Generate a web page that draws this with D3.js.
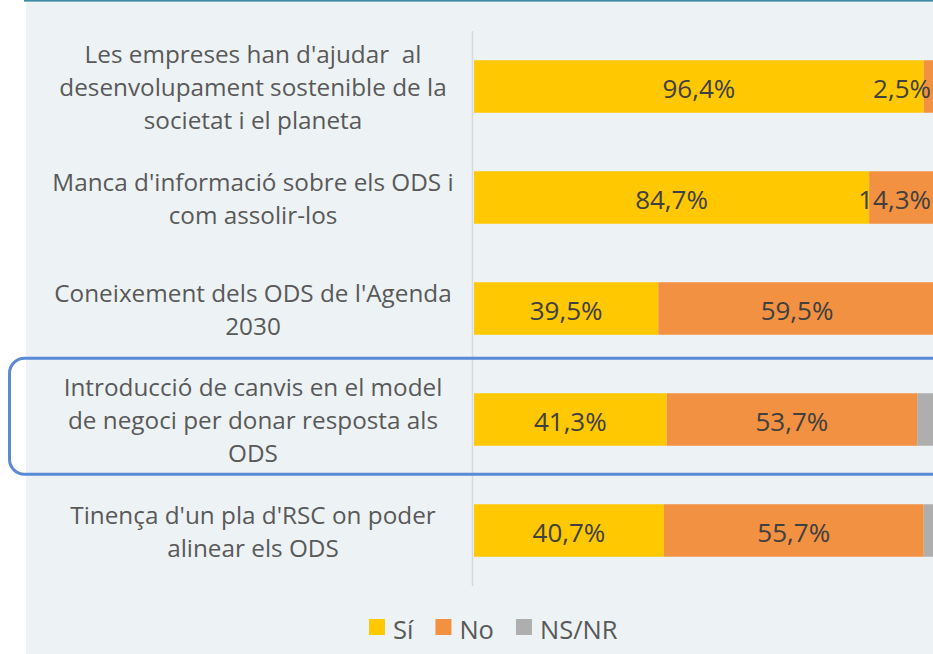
<!DOCTYPE html>
<html>
<head>
<meta charset="utf-8">
<script src="https://cdn.jsdelivr.net/npm/d3@7"></script>
<style>
  html, body { margin: 0; padding: 0; background: #ffffff; }
  svg { display: block; }
  text { font-family: 'Open Sans', sans-serif; }
</style>
</head>
<body>
<div id="chart"></div>
<script>
// categories, one array of lines each (as wrapped in the picture)
const categories = [
  ["Les empreses han d'ajudar  al", "desenvolupament sostenible de la", "societat i el planeta"],
  ["Manca d'informació sobre els ODS i", "com assolir-los"],
  ["Coneixement dels ODS de l'Agenda", "2030"],
  ["Introducció de canvis en el model", "de negoci per donar resposta als", "ODS"],
  ["Tinença d'un pla d'RSC on poder", "alinear els ODS"]
];
const si = [96.4, 84.7, 39.5, 41.3, 40.7];
const no = [2.5, 14.3, 59.5, 53.7, 55.7];
const nsnr = [1.1, 1.0, 1.0, 5.0, 3.6];
const seriesNames = ['Sí', 'No', 'NS/NR'];
const highlighted = 3;

const width = 933, height = 654;

const svg = d3.select('#chart').append('svg')
  .attr('width', width)
  .attr('height', height);

// panel background + top rule
svg.append('rect')
  .attr('x', 26).attr('y', 0)
  .attr('width', width - 26).attr('height', height)
  .attr('fill', '#edf2f5');
svg.append('rect')
  .attr('x', 24).attr('y', 0)
  .attr('width', width - 24).attr('height', 1.6)
  .attr('fill', '#3b8ca3');

const color = d3.scaleOrdinal()
  .domain(seriesNames)
  .range(['#ffc800', '#f29141', '#aeaeae']);

const y = d3.scaleBand()
  .domain(d3.range(categories.length))
  .range([31, 586])
  .paddingInner(0.527)
  .paddingOuter(0.2635);

const x = d3.scaleLinear()
  .domain([0, 100])
  .range([474, 940.5]);

const rows = categories.map((c, i) => ({ i, 'Sí': si[i], 'No': no[i], 'NS/NR': nsnr[i] }));
const stack = d3.stack().keys(seriesNames)(rows);

// vertical axis line
svg.append('line')
  .attr('x1', 472.5).attr('x2', 472.5)
  .attr('y1', y.range()[0]).attr('y2', y.range()[1])
  .attr('stroke', '#d9d9d9')
  .attr('stroke-width', 1.5);

const layers = svg.append('g')
  .selectAll('g')
  .data(stack)
  .join('g')
  .attr('fill', d => color(d.key));

layers.selectAll('rect')
  .data(d => d)
  .join('rect')
  .attr('x', d => x(d[0]))
  .attr('y', (d, i) => y(i))
  .attr('width', d => x(d[1]) - x(d[0]))
  .attr('height', y.bandwidth());

// value labels (Sí and No only), kept inside the visible plot
const fmt = v => v.toFixed(1).replace('.', ',') + '%';
const plotRight = 931;
stack.filter(s => s.key !== 'NS/NR').forEach(s => {
  s.forEach((d, i) => {
    const t = svg.append('text')
      .attr('y', y(i) + y.bandwidth() / 2)
      .attr('dy', '0.43em')
      .attr('text-anchor', 'middle')
      .attr('fill', '#404040')
      .style('font-size', '26px')
      .text(fmt(d[1] - d[0]));
    const w = t.node().getComputedTextLength();
    const cx = Math.min((x(d[0]) + x(d[1])) / 2, plotRight - w / 2);
    t.attr('x', cx);
  });
});

// category labels, centred to the left of the axis
const lineH = 33;
categories.forEach((lines, i) => {
  const cy = y(i) + y.bandwidth() / 2;
  const t = svg.append('text')
    .attr('text-anchor', 'middle')
    .attr('fill', '#595959')
    .style('font-size', '24.3px');
  lines.forEach((ln, k) => {
    t.append('tspan')
      .attr('x', 253)
      .attr('y', cy + (k - (lines.length - 1) / 2) * lineH)
      .attr('dy', '0.4em')
      .style('white-space', 'pre')
      .text(ln);
  });
});

// highlight frame around one category
svg.append('rect')
  .attr('x', 9.5)
  .attr('y', y(highlighted) - 35)
  .attr('width', 980)
  .attr('height', 116)
  .attr('rx', 15)
  .attr('fill', 'none')
  .attr('stroke', '#5a8ad5')
  .attr('stroke-width', 3);

// legend
const legend = svg.append('g').attr('transform', 'translate(369,0)');
let lx = 0;
seriesNames.forEach(name => {
  legend.append('rect')
    .attr('x', lx).attr('y', 619)
    .attr('width', 16).attr('height', 16)
    .attr('fill', color(name));
  const t = legend.append('text')
    .attr('x', lx + 24)
    .attr('y', 630)
    .attr('dy', '0.35em')
    .attr('fill', '#595959')
    .style('font-size', '25.5px')
    .text(name);
  lx += 24 + t.node().getComputedTextLength() + 22;
});
</script>
</body>
</html>
